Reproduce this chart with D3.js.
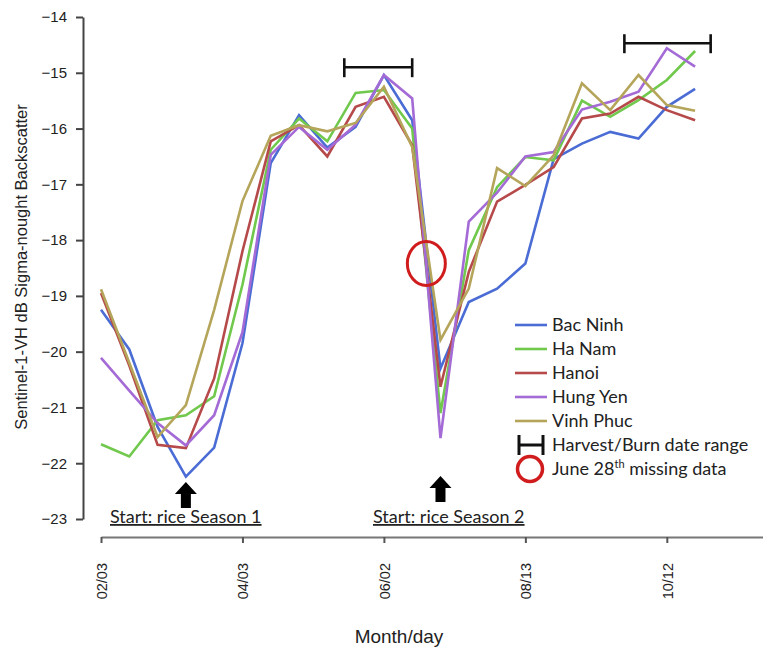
<!DOCTYPE html>
<html>
<head>
<meta charset="utf-8">
<script src="https://cdn.jsdelivr.net/npm/d3@7"></script>
<style>
  body { margin: 0; background: #fff; }
  svg { display: block; }
  .axis text { font-family: "Liberation Sans", Arial, sans-serif; font-size: 15px; fill: #222; }
  .axis path, .axis line { stroke: #444; stroke-width: 2px; }
  .note { font-family: Lato, "Open Sans", sans-serif; font-size: 18px; fill: #222; }
</style>
</head>
<body>
<div id="chart"></div>
<script>
// observation index (12-day Sentinel-1 passes, June 28th missing)
const tickIdx = [0, 5, 10, 15, 20];
const tickLabels = ["02/03", "04/03", "06/02", "08/13", "10/12"];
const yTicks = [-14, -15, -16, -17, -18, -19, -20, -21, -22, -23];

const provinces = ["Bac Ninh", "Ha Nam", "Hanoi", "Hung Yen", "Vinh Phuc"];
const colors = ["#4a6cd4", "#70c94c", "#b64a4a", "#a46ad6", "#b5a55a"];

const bacNinh = [-19.25, -19.96, -21.35, -22.24, -21.72, -19.85, -16.62, -15.76, -16.34, -15.97, -15.04,
  -15.85, -20.30, -19.11, -18.87, -18.42, -16.55, -16.27, -16.06, -16.18, -15.61, -15.29];
const haNam = [-21.66, -21.88, -21.23, -21.14, -20.80, -18.80, -16.38, -15.82, -16.23, -15.36, -15.31,
  -16.00, -21.10, -18.18, -17.05, -16.51, -16.57, -15.50, -15.79, -15.49, -15.13, -14.61];
const hanoi = [-18.95, -20.25, -21.67, -21.73, -20.48, -18.20, -16.23, -15.94, -16.50, -15.61, -15.43,
  -16.30, -20.63, -18.57, -17.31, -17.01, -16.69, -15.82, -15.73, -15.43, -15.67, -15.85];
const hungYen = [-20.11, -20.70, -21.28, -21.68, -21.14, -19.65, -16.47, -15.97, -16.38, -15.93, -15.04,
  -15.46, -21.55, -17.67, -17.15, -16.50, -16.42, -15.66, -15.52, -15.34, -14.56, -14.89];
const vinhPhuc = [-18.88, -20.20, -21.53, -20.96, -19.25, -17.30, -16.13, -15.94, -16.05, -15.90, -15.25,
  -16.33, -19.79, -18.87, -16.71, -17.03, -16.48, -15.19, -15.67, -15.04, -15.58, -15.68];
const series = [bacNinh, haNam, hanoi, hungYen, vinhPhuc];

// harvest / burn date ranges (in observation index) and the level they are drawn at
const harvestStart = [8.6, 18.5];
const harvestEnd = [11.0, 21.55];
const harvestLevel = [-14.9, -14.47];

// missing June 28th acquisition
const missingIdx = 11.5, missingVal = -18.42;

// season starts
const seasonIdx = [3, 12];
const seasonLabels = ["Start: rice Season 1", "Start: rice Season 2"];

const W = 763, H = 652;
const svg = d3.select("#chart").append("svg").attr("width", W).attr("height", H);

const x = d3.scaleLinear().domain([0, 23.4]).range([101, 763]);
const y = d3.scaleLinear().domain([-23, -14]).range([519, 17]);

// y axis
const yAxis = svg.append("g").attr("class", "axis")
  .attr("transform", "translate(83,0)")
  .call(d3.axisLeft(y).tickValues(yTicks).tickSize(7).tickSizeOuter(0).tickPadding(9)
    .tickFormat(d3.format("d")));

// x axis
const xAxis = svg.append("g").attr("class", "axis")
  .attr("transform", "translate(0,537)")
  .call(d3.axisBottom(x).tickValues(tickIdx).tickSize(6).tickSizeOuter(0)
    .tickFormat((d, i) => tickLabels[i]));
xAxis.select(".domain").style("stroke", "#777");
xAxis.selectAll(".tick line").style("stroke", "#555");
xAxis.selectAll("text")
  .style("font-size", "14.5px")
  .attr("transform", "rotate(-90)")
  .attr("x", -26).attr("y", 0).attr("dy", "0.36em")
  .style("text-anchor", "end");

// axis titles
svg.append("text")
  .attr("transform", "translate(27,267) rotate(-90)")
  .attr("text-anchor", "middle")
  .style("font-family", "Liberation Sans, Arial, sans-serif")
  .style("font-size", "16.5px").style("fill", "#222")
  .text("Sentinel-1-VH dB Sigma-nought Backscatter");
svg.append("text")
  .attr("x", 399).attr("y", 643)
  .attr("text-anchor", "middle")
  .style("font-family", "Liberation Sans, Arial, sans-serif")
  .style("font-size", "19px").style("fill", "#222")
  .text("Month/day");

// lines
const line = d3.line().x((d, i) => x(i)).y(d => y(d));
svg.append("g").selectAll("path")
  .data(series)
  .enter()
  .append("path")
  .attr("d", line)
  .attr("fill", "none")
  .attr("stroke", (d, i) => colors[i])
  .attr("stroke-width", 2.6)
  .attr("stroke-linejoin", "miter");

// harvest ranges
const hr = svg.append("g").selectAll("g")
  .data(harvestStart.map((s, i) => ({ s: s, e: harvestEnd[i], v: harvestLevel[i] })))
  .enter().append("g")
  .attr("stroke", "#111").attr("stroke-width", 2.6);
hr.append("line").attr("x1", d => x(d.s)).attr("x2", d => x(d.e))
  .attr("y1", d => y(d.v)).attr("y2", d => y(d.v));
hr.append("line").attr("x1", d => x(d.s)).attr("x2", d => x(d.s))
  .attr("y1", d => y(d.v) - 9).attr("y2", d => y(d.v) + 10);
hr.append("line").attr("x1", d => x(d.e)).attr("x2", d => x(d.e))
  .attr("y1", d => y(d.v) - 9).attr("y2", d => y(d.v) + 10);

// missing data circle
svg.append("ellipse")
  .attr("cx", x(missingIdx)).attr("cy", y(missingVal))
  .attr("rx", 19).attr("ry", 22)
  .attr("fill", "none").attr("stroke", "#d01c1c").attr("stroke-width", 3);

// season arrows + labels
const arrowTop = [482, 476];
const arrow = d3.line();
seasonIdx.forEach((si, i) => {
  const cx = x(si), t = arrowTop[i];
  svg.append("path")
    .attr("d", arrow([[cx, t], [cx + 11, t + 12], [cx + 5, t + 12], [cx + 5, t + 26],
      [cx - 5, t + 26], [cx - 5, t + 12], [cx - 11, t + 12]]) + "Z")
    .attr("fill", "#000");
});
svg.append("text").attr("class", "note")
  .attr("x", 110).attr("y", 523)
  .style("text-decoration", "underline")
  .text(seasonLabels[0]);
svg.append("text").attr("class", "note")
  .attr("x", 373).attr("y", 523)
  .style("text-decoration", "underline")
  .text(seasonLabels[1]);

// legend
const legend = svg.append("g").attr("transform", "translate(515,325)");
provinces.forEach((p, i) => {
  const g = legend.append("g").attr("transform", "translate(0," + i * 24 + ")");
  g.append("line").attr("x1", 0).attr("x2", 32).attr("y1", 0).attr("y2", 0)
    .attr("stroke", colors[i]).attr("stroke-width", 2.6);
  g.append("text").attr("class", "note").attr("x", 37).attr("dy", "0.35em").text(p);
});
const hg = legend.append("g").attr("transform", "translate(0,120)")
  .attr("stroke", "#111").attr("stroke-width", 3);
hg.append("line").attr("x1", 4).attr("x2", 28).attr("y1", 0).attr("y2", 0);
hg.append("line").attr("x1", 4).attr("x2", 4).attr("y1", -10).attr("y2", 10);
hg.append("line").attr("x1", 28).attr("x2", 28).attr("y1", -10).attr("y2", 10);
legend.append("text").attr("class", "note").attr("x", 37).attr("y", 120).attr("dy", "0.35em")
  .text("Harvest/Burn date range");
legend.append("circle").attr("cx", 15).attr("cy", 144).attr("r", 12.5)
  .attr("fill", "none").attr("stroke", "#d01c1c").attr("stroke-width", 3.5);
const jt = legend.append("text").attr("class", "note").attr("x", 37).attr("y", 150);
jt.append("tspan").text("June 28");
jt.append("tspan").attr("dy", -7).style("font-size", "11px").text("th");
jt.append("tspan").attr("dy", 7).text(" missing data");
</script>
</body>
</html>
